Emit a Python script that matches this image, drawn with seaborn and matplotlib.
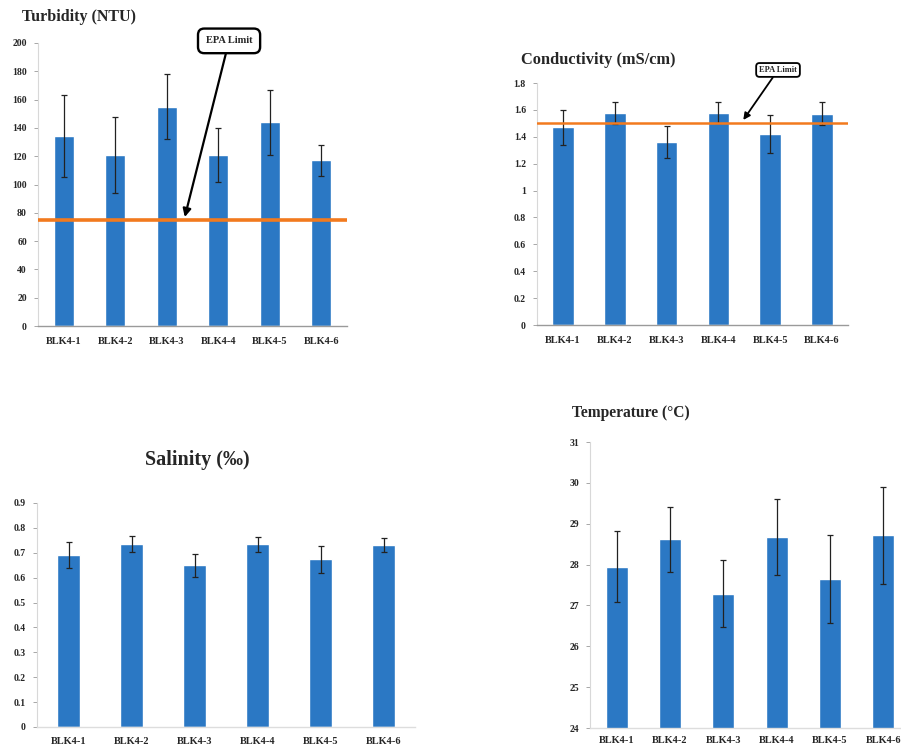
import matplotlib
matplotlib.use("Agg")
import matplotlib.pyplot as plt
import seaborn as sns
import pandas as pd

sns.set_theme(style="white")
plt.rcParams['font.family'] = ['Liberation Serif', 'DejaVu Serif']
plt.rcParams['font.weight'] = 'bold'

categories = ["BLK4-1", "BLK4-2", "BLK4-3", "BLK4-4", "BLK4-5", "BLK4-6"]

turbidity = [134, 121, 155, 121, 144, 117]
turbidity_err = [29, 27, 23, 19, 23, 11]
turbidity_limit = 75
turbidity_ticks = [0, 20, 40, 60, 80, 100, 120, 140, 160, 180, 200]

conductivity = [1.47, 1.575, 1.36, 1.58, 1.42, 1.57]
conductivity_err = [0.13, 0.08, 0.12, 0.08, 0.14, 0.085]
conductivity_limit = 1.50
conductivity_ticks = [0, 0.2, 0.4, 0.6, 0.8, 1, 1.2, 1.4, 1.6, 1.8]
conductivity_labels = ["0", "0.2", "0.4", "0.6", "0.8", "1", "1.2", "1.4", "1.6", "1.8"]

salinity = [0.69, 0.735, 0.65, 0.735, 0.673, 0.73]
salinity_err = [0.052, 0.033, 0.047, 0.03, 0.053, 0.028]
salinity_ticks = [0, 0.1, 0.2, 0.3, 0.4, 0.5, 0.6, 0.7, 0.8, 0.9]
salinity_labels = ["0", "0.1", "0.2", "0.3", "0.4", "0.5", "0.6", "0.7", "0.8", "0.9"]

temperature = [27.95, 28.62, 27.29, 28.67, 27.65, 28.72]
temperature_err = [0.86, 0.80, 0.82, 0.93, 1.08, 1.19]
temperature_ticks = [24, 25, 26, 27, 28, 29, 30, 31]

BAR = "#2b78c4"
ORANGE = "#f27a1e"

W, H = 901, 752
fig = plt.figure(figsize=(W / 100, H / 100), dpi=100)


def px_axes(left, right, top, bottom):
    return fig.add_axes([left / W, 1 - bottom / H, (right - left) / W, (bottom - top) / H])


def panel(ax, vals, errs, ylim, ticks, labels=None, width=0.4, xpad=7):
    df = pd.DataFrame({"cat": categories, "val": vals})
    sns.barplot(data=df, x="cat", y="val", ax=ax, color=BAR, saturation=1,
                width=width, errorbar=None)
    ax.errorbar(categories, vals, yerr=errs, fmt="none", ecolor="#222222",
                elinewidth=0.9, capsize=2, capthick=0.9, zorder=5)
    ax.set_ylim(*ylim)
    ax.set_xlim(-0.5, 5.5)
    ax.set_yticks(ticks)
    if labels is not None:
        ax.set_yticklabels(labels)
    ax.set_xlabel("")
    ax.set_ylabel("")
    for s in ["top", "right"]:
        ax.spines[s].set_visible(False)
    ax.spines["left"].set_color("#d8d8d8")
    ax.spines["left"].set_linewidth(0.8)
    ax.spines["bottom"].set_color("#9a9a9a")
    ax.spines["bottom"].set_linewidth(1.0)
    ax.tick_params(axis="y", left=True, length=3, width=0.6, color="#999999",
                   labelsize=7, pad=5)
    ax.tick_params(axis="x", bottom=False, length=0, labelsize=7.5, pad=xpad)
    for lab in ax.get_xticklabels() + ax.get_yticklabels():
        lab.set_fontweight("bold")


# Turbidity
ax1 = px_axes(38, 347, 43, 326)
panel(ax1, turbidity, turbidity_err, (0, 200), turbidity_ticks, width=0.39, xpad=8)
ax1.axhline(turbidity_limit, color=ORANGE, lw=2.6, zorder=6)
ax1.text(-0.052, 1.092, "Turbidity (NTU)", transform=ax1.transAxes, fontsize=11.5,
         fontweight="bold", ha="left", va="center")
ax1.annotate("EPA Limit", xy=(2.35, 77), xytext=(3.21, 201.5), textcoords="data",
             fontsize=7.5, fontweight="bold", ha="center", va="center",
             bbox=dict(boxstyle="round,pad=0.75,rounding_size=0.6", fc="white", ec="black", lw=1.7),
             arrowprops=dict(arrowstyle="-|>", color="black", lw=1.6, shrinkA=0, shrinkB=0,
                             mutation_scale=12),
             annotation_clip=False, zorder=10)

# Conductivity
ax2 = px_axes(537, 848, 83, 325)
panel(ax2, conductivity, conductivity_err, (0, 1.8), conductivity_ticks, conductivity_labels,
      width=0.42, xpad=8)
ax2.axhline(conductivity_limit, color=ORANGE, lw=1.8, zorder=6)
ax2.text(-0.05, 1.095, "Conductivity (mS/cm)", transform=ax2.transAxes, fontsize=11.8,
         fontweight="bold", ha="left", va="center")
ax2.annotate("EPA Limit", xy=(3.48, 1.525), xytext=(4.15, 1.897), textcoords="data",
             fontsize=6, fontweight="bold", ha="center", va="center",
             bbox=dict(boxstyle="round,pad=0.35,rounding_size=0.4", fc="white", ec="black", lw=1.3),
             arrowprops=dict(arrowstyle="-|>", color="black", lw=1.3, shrinkA=0, shrinkB=0,
                             mutation_scale=10),
             annotation_clip=False, zorder=10)

# Salinity
ax3 = px_axes(37, 415, 503, 727)
panel(ax3, salinity, salinity_err, (0, 0.9), salinity_ticks, salinity_labels, width=0.37, xpad=7)
ax3.spines["bottom"].set_color("#dddddd")
ax3.text(0.423, 1.19, "Salinity (‰)", transform=ax3.transAxes, fontsize=14.5,
         fontweight="bold", ha="center", va="center")

# Temperature
ax4 = px_axes(590, 910, 442, 728)
panel(ax4, temperature, temperature_err, (24, 31), temperature_ticks, width=0.41, xpad=6)
ax4.spines["bottom"].set_color("#dddddd")
ax4.text(-0.055, 1.101, "Temperature (°C)", transform=ax4.transAxes, fontsize=11.2,
         fontweight="bold", ha="left", va="center")

fig.savefig("out.png", dpi=100)
